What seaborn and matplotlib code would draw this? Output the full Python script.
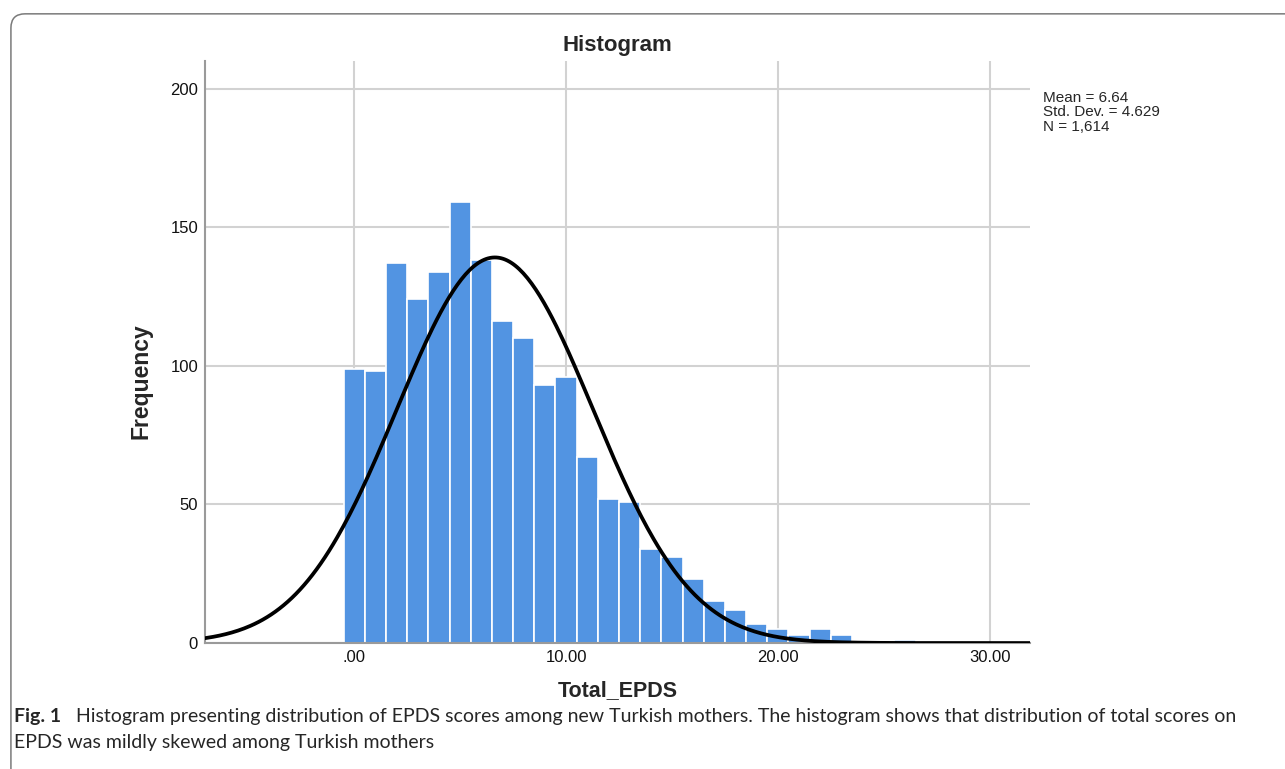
import numpy as np
import pandas as pd
import matplotlib
matplotlib.use("Agg")
import matplotlib.pyplot as plt
from matplotlib.patches import FancyBboxPatch
import seaborn as sns

# EPDS total score and how many mothers got it
scores = list(range(0, 27))
counts = [99, 98, 137, 124, 134, 159, 138, 116, 110, 93, 96, 67, 52, 51,
          34, 31, 23, 15, 12, 7, 5, 3, 5, 3, 0, 0, 1]

# summary stats printed in the chart
mean_val = 6.64
sd_val = 4.629
n_val = 1614

x_ticks = [0, 10, 20, 30]
x_ticklabels = [".00", "10.00", "20.00", "30.00"]
y_ticks = [0, 50, 100, 150, 200]

sns.set_style("white")
plt.rcParams['font.family'] = ['Liberation Sans', 'DejaVu Sans']

fig = plt.figure(figsize=(12.85, 7.69), dpi=100)
ax = fig.add_axes([0.1595, 0.1638, 0.642, 0.757])

df = pd.DataFrame({"score": scores, "count": counts})
sns.histplot(data=df, x="score", weights="count", discrete=True,
             color="#5294e2", alpha=1, edgecolor="white", linewidth=1.2, ax=ax,
             zorder=2)

# normal curve from the mean / sd that SPSS reports (bin width 1)
xs = np.linspace(-7.05, 31.9, 400)
ys = n_val * np.exp(-0.5 * ((xs - mean_val) / sd_val) ** 2) / (sd_val * np.sqrt(2 * np.pi))
sns.lineplot(x=xs, y=ys, color="black", linewidth=2.7, ax=ax, zorder=3)

ax.set_xlim(-7.05, 31.9)
ax.set_ylim(0, 210)
ax.set_xticks(x_ticks)
ax.set_xticklabels(x_ticklabels)
ax.set_yticks(y_ticks)
ax.grid(True, color="#d2d2d2", linewidth=1.5, zorder=0)
ax.set_axisbelow(True)
ax.tick_params(axis="both", length=0, labelsize=12, pad=5, colors="#111111")
for side in ["top", "right"]:
    ax.spines[side].set_visible(False)
for side in ["left", "bottom"]:
    ax.spines[side].set_color("#9a9a9a")
    ax.spines[side].set_linewidth(1.5)

ax.set_xlabel("Total_EPDS", fontsize=15.5, fontweight="bold")
ax.xaxis.set_label_coords(0.5, -0.063)
ax.set_ylabel("Frequency", fontsize=16.5, fontweight="bold")
ax.yaxis.set_label_coords(-0.064, 0.45)
ax.set_title("Histogram", fontsize=16, fontweight="bold", pad=7)

fig.text(0.8115, 0.882, f"Mean = {mean_val:.2f}\nStd. Dev. = {sd_val:.3f}\nN = {n_val:,}",
         fontsize=11, va="top", ha="left", linespacing=1.05)

# caption under the chart
cap_font = ['Lato', 'DejaVu Sans']
fig.text(0.011, 0.068, "Fig. 1", fontsize=14, fontweight="bold", family=cap_font, va="center")
fig.text(0.059, 0.068, "Histogram presenting distribution of EPDS scores among new Turkish mothers. "
         "The histogram shows that distribution of total scores on",
         fontsize=14, family=cap_font, va="center")
fig.text(0.011, 0.034, "EPDS was mildly skewed among Turkish mothers",
         fontsize=14, family=cap_font, va="center")

# rounded frame around the figure
frame = FancyBboxPatch((0.0085, -0.05), 1.1, 1.032, boxstyle="round,pad=0,rounding_size=0.011",
                       transform=fig.transFigure, fill=False, edgecolor="#7a7a7a",
                       linewidth=1.1, mutation_aspect=1.67)
fig.patches.append(frame)

fig.savefig("out.png", dpi=100)
